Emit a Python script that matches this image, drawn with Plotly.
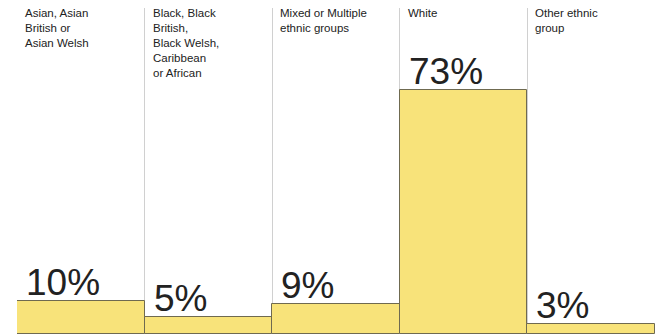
import plotly.graph_objects as go

categories = ["Asian, Asian<br>British or<br>Asian Welsh",
              "Black, Black<br>British,<br>Black Welsh,<br>Caribbean<br>or African",
              "Mixed or Multiple<br>ethnic groups",
              "White",
              "Other ethnic<br>group"]
values = [10, 5, 9, 73, 3]
value_labels = ["10%", "5%", "9%", "73%", "3%"]

idx = list(range(len(categories)))

fig = go.Figure()
fig.add_trace(go.Bar(
    x=idx, y=values, width=1,
    marker=dict(color="#F8E37A", line=dict(color="#6f6a50", width=1)),
    hoverinfo="skip", showlegend=False,
))

for i, (cat, lab, v) in enumerate(zip(categories, value_labels, values)):
    fig.add_annotation(x=i - 0.5, y=1, xref="x", yref="paper", text=cat,
                       xanchor="left", yanchor="top", align="left", showarrow=False,
                       xshift=6, yshift=3,
                       font=dict(family="Liberation Sans, Arial", size=11.5, color="#222"))
    fig.add_annotation(x=i - 0.5, y=v, xref="x", yref="y", text=lab,
                       xanchor="left", yanchor="bottom", showarrow=False,
                       xshift=7, yshift=-4,
                       font=dict(family="Liberation Sans, Arial", size=37, color="#222"))

fig.update_xaxes(range=[-0.5, 4.5], tick0=-0.5, dtick=1, showgrid=True,
                 gridcolor="#d0d0d0", gridwidth=1, showticklabels=False,
                 zeroline=False, showline=False, ticks="")
fig.update_yaxes(range=[0, 97.6], showgrid=False, showticklabels=False,
                 zeroline=False, showline=False, ticks="")
fig.update_layout(width=656, height=334, margin=dict(l=17, r=1, t=8, b=0),
                  plot_bgcolor="white", paper_bgcolor="white", bargap=0)
fig.write_html("out.html", config={"displayModeBar": False},
               post_script="document.body.style.margin='0';")
